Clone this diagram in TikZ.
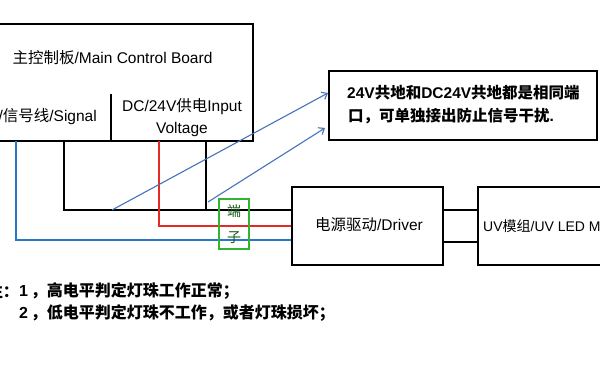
\documentclass[tikz,border=0pt]{standalone}
\usepackage{fontspec}
\setmainfont{Liberation Sans}
\newfontfamily\cjk{Noto Sans CJK SC}
\usetikzlibrary{arrows.meta}
\definecolor{wireblue}{RGB}{40,120,200}
\definecolor{diagblue}{RGB}{70,115,185}
\definecolor{wirered}{RGB}{230,40,40}
\definecolor{termgreen}{RGB}{50,180,50}
\begin{document}
\begin{tikzpicture}[x=1pt,y=-1pt,
  box/.style={draw=black,line width=1.4pt},
  lbl/.style={inner sep=0pt,font=\fontsize{15.5}{18}\selectfont},
  blbl/.style={inner sep=0pt,font=\fontsize{15.5}{18}\selectfont\bfseries},
  nlbl/.style={inner sep=0pt,font=\fontsize{16}{18}\selectfont\bfseries},
  wire/.style={line width=1.4pt},
  diag/.style={diagblue,line width=1.1pt,-{Straight Barb[length=5pt,width=8pt]}}]
\useasboundingbox (0,0) rectangle (600,371);
\clip (0,0) rectangle (600,371);
\fill[white] (0,0) rectangle (600,371);
% main board
\draw[box] (-10,24) rectangle (253,141);
\draw[box] (111,94) -- (111,141);
\node[lbl] (title) at (112.5,58) {{\cjk 主控制板}/Main Control Board};
\node[lbl,anchor=east] (sig) at (97,117) {/{\cjk 信号线}/Signal};
\node[lbl] (dc1) at (182,107) {DC/24V{\cjk 供电}Input};
\node[lbl] (dc2) at (182,129) {Voltage};
% boxes
\node[box,minimum width=151pt,minimum height=78pt,inner sep=0pt] (drv) at (367.5,226) {};
\node[lbl] (drvt) at (369,225) {{\cjk 电源驱动}/Driver};
\draw[box] (478,187) rectangle (620,265);
\node[lbl,anchor=west,font=\fontsize{14}{17}\selectfont] (uvt) at (483,226) {UV{\cjk 模组}/UV LED Module};
\coordinate (uvtop) at (478,210);
\coordinate (uvbot) at (478,242);
\draw[box] (drv.east |- uvtop) -- (uvtop);
\draw[box] (drv.east |- uvbot) -- (uvbot);
% note box
\node[box,minimum width=268pt,minimum height=69pt,inner sep=0pt] (note) at (463,105.5) {};
\node[blbl,anchor=west] (n1) at (347,93) {24V{\cjk 共地和}DC24V{\cjk 共地都是相同端}};
\node[blbl,anchor=west] (n2) at (348,116) {{\cjk 口，可单独接出防止信号干扰}.};
% wires
\coordinate (bk1) at (64,141);
\coordinate (bk2) at (206,141);
\coordinate (rd) at (159,141);
\coordinate (bl) at (16,141);
\draw[wire,black] (bk1) |- (drv.west |- 0,210);
\draw[wire,black] (bk2) -- (bk2 |- 0,210);
\draw[wire,wirered] (rd) |- (drv.west |- 0,226);
\draw[wire,wireblue] (bl) |- (drv.west |- 0,240);
% terminal
\node[draw=termgreen,line width=1.8pt,minimum width=30pt,minimum height=50pt,inner sep=0pt] (term) at (234,224) {};
\node[lbl,text=termgreen!50!black,font=\fontsize{14}{16}\selectfont\cjk] (t1) at (234,211) {端};
\node[lbl,text=termgreen!50!black,font=\fontsize{14}{16}\selectfont\cjk] (t2) at (234,238) {子};
% diagonal arrows
\coordinate (d1s) at (112,210);
\coordinate (d2s) at (208,202);
\draw[diag] (d1s) -- (328,93);
\draw[diag] (d2s) -- (325,128);
% notes
\node[nlbl,anchor=east] (z0) at (19,291) {\cjk 注：};
\node[nlbl,anchor=west] (z1) at (19,291) {1\,{\cjk ，高电平判定灯珠工作正常；}};
\node[nlbl,anchor=west] (z2) at (19,313) {2\,{\cjk ，低电平判定灯珠不工作，或者灯珠损坏；}};
\end{tikzpicture}
\end{document}
